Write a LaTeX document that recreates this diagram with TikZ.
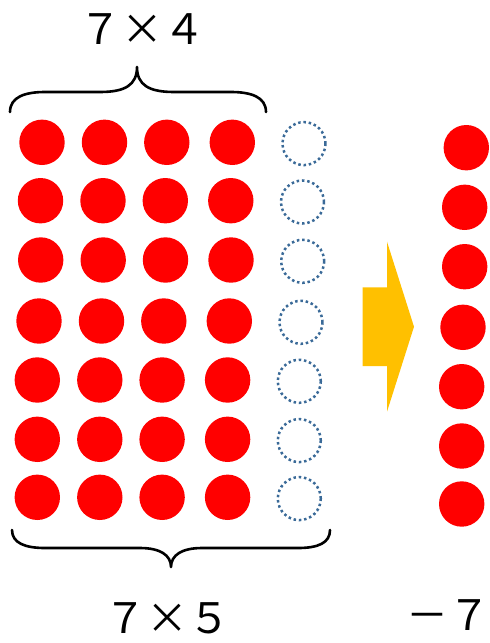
\documentclass[tikz,border=0pt]{standalone}
\usepackage{fontspec}
\newfontfamily\jpfont{Noto Sans CJK JP}
\usepackage{xcolor}
\definecolor{dotred}{HTML}{FF0000}
\definecolor{gapblue}{HTML}{3A6A98}
\definecolor{arrowgold}{HTML}{FFC000}
\tikzset{
  counter/.style={circle,fill=dotred,inner sep=0pt,minimum size=45.4pt},
  gap/.style={circle,draw=gapblue,line width=2.5pt,dash pattern=on 2.5pt off 2.8pt,inner sep=0pt,minimum size=43pt},
  label/.style={inner sep=0pt,font=\jpfont\fontsize{42}{48}\selectfont},
  curly/.style={line width=2.6pt,line cap=round,line join=round}
}
\begin{document}
\begin{tikzpicture}[x=1pt,y=-1pt]
\useasboundingbox (0,0) rectangle (490,643);
% the 7 x 5 block, last column left empty
\foreach \y/\x [count=\r] in {142.3/42,200.7/40.5,260/40.7,321/39,380/37.3,439.3/37.3,497.3/37.3}{
  \foreach \dx [count=\c] in {0,62.5,124.8,190.3}
    \node[counter] (d\r\c) at (\x+\dx,\y) {};
  \node[gap] (e\r) at (\x+262,\y+1.3) {};
}
% braces
\draw[curly] (10,112) .. controls (10,97) and (25,92) .. (45,92) -- (100,92)
  .. controls (125,92) and (137,85) .. (137,67) .. controls (137,85) and (149,92) .. (174,92)
  -- (231,92) .. controls (251,92) and (266,97) .. (266,112);
\draw[curly] (12,530) .. controls (12,543) and (25,548) .. (45,548) -- (140,548)
  .. controls (160,548) and (171,555) .. (171,567) .. controls (171,555) and (182,548) .. (202,548)
  -- (298,548) .. controls (318,548) and (330,543) .. (330,530);
\node[label] (top) at (142.5,29) {７×４};
\node[label] (bottom) at (167.5,618) {７×５};
% arrow
\fill[arrowgold] (362.7,287.3) -- (387,287.3) -- (387,241.7) -- (414,326.7)
  -- (387,411.7) -- (387,366) -- (362.7,366) -- cycle;
% what is left
\foreach \x/\y [count=\r] in {466.3/147.7,464.7/207.3,464.7/266.7,463/327.3,461.7/386.7,461.7/446,461.7/504}
  \node[counter] (m\r) at (\x,\y) {};
\node[label] (rest) at (448,615) {－７};
\end{tikzpicture}
\end{document}
